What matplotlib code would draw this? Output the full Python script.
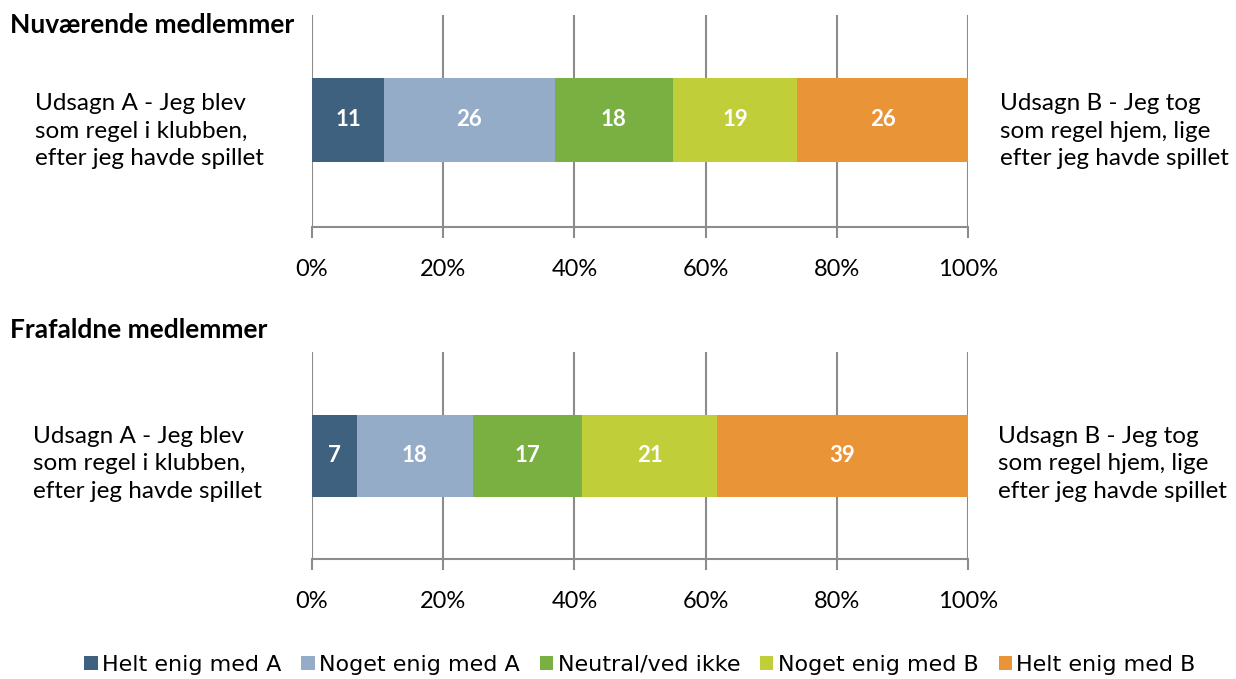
import matplotlib
matplotlib.use("Agg")
import matplotlib.pyplot as plt
import numpy as np
from matplotlib.patches import Patch

plt.rcParams['font.family'] = ['Lato', 'DejaVu Sans']

categories = ["Helt enig med A", "Noget enig med A", "Neutral/ved ikke",
              "Noget enig med B", "Helt enig med B"]
colors = ["#3F6180", "#95ACC8", "#7AAF42", "#C0CE3A", "#EA9438"]
panel_titles = ["Nuværende medlemmer", "Frafaldne medlemmer"]
current_values = [11, 26, 18, 19, 26]
former_values = [7, 18, 17, 21, 39]
tick_labels = ["0%", "20%", "40%", "60%", "80%", "100%"]
label_a = "Udsagn A - Jeg blev\nsom regel i klubben,\nefter jeg havde spillet"
label_b = "Udsagn B - Jeg tog\nsom regel hjem, lige\nefter jeg havde spillet"

W, H = 1236, 679
fig = plt.figure(figsize=(W / 100, H / 100), dpi=100)

def fx(px):
    return px / W

def fy(py):
    return 1 - py / H

panels = [
    dict(values=current_values, top=15, bottom=227, bar_top=78, bar_bot=162,
         title_y=25, lab_y=131, lab_ax=35, lab_bx=1000),
    dict(values=former_values, top=352, bottom=559, bar_top=415, bar_bot=497,
         title_y=330, lab_y=464, lab_ax=33, lab_bx=998),
]

grid_c = "#8C8C8C"
for title, p in zip(panel_titles, panels):
    ax = fig.add_axes([fx(312), fy(p['bottom']), fx(968) - fx(312),
                       (p['bottom'] - p['top']) / H])
    vals = np.array(p['values'], dtype=float)
    pct = vals / vals.sum() * 100
    left = 0.0
    hpx = p['bottom'] - p['top']
    center = (p['bottom'] - (p['bar_top'] + p['bar_bot']) / 2) / hpx
    height = (p['bar_bot'] - p['bar_top']) / hpx
    for v, pc, c in zip(vals, pct, colors):
        ax.barh(center, pc, left=left, height=height, color=c, zorder=3)
        ax.text(left + pc / 2, center, f"{int(v)}", ha='center', va='center',
                color='white', fontsize=16, fontweight='bold', zorder=4)
        left += pc
    ax.set_xlim(0, 100)
    ax.set_ylim(0, 1)
    ax.set_xticks(np.arange(0, 101, 20))
    ax.set_xticklabels(tick_labels, fontsize=17)
    ax.set_yticks([])
    ax.grid(axis='x', color=grid_c, linewidth=1.5, zorder=0)
    for s in ['top', 'right', 'left']:
        ax.spines[s].set_visible(False)
    ax.spines['bottom'].set_color(grid_c)
    ax.spines['bottom'].set_linewidth(1.5)
    ax.tick_params(axis='x', color=grid_c, width=1.5, length=8, pad=15,
                   labelcolor='black')
    fig.text(fx(10), fy(p['title_y']), title, fontsize=19, fontweight='bold',
             ha='left', va='center')
    fig.text(fx(p['lab_ax']), fy(p['lab_y']), label_a, fontsize=17.5,
             ha='left', va='center', linespacing=1.4)
    fig.text(fx(p['lab_bx']), fy(p['lab_y']), label_b, fontsize=17.5,
             ha='left', va='center', linespacing=1.4)

handles = [Patch(facecolor=c, edgecolor='none') for c in colors]
fig.legend(handles, categories, loc='center', bbox_to_anchor=(fx(640), fy(665)),
           ncol=5, frameon=False, handlelength=0.6, handleheight=0.6,
           handletextpad=0.2, columnspacing=0.9,
           prop={'family': ['Liberation Sans Narrow', 'DejaVu Sans'], 'size': 16})

fig.savefig("out.png", dpi=100)
